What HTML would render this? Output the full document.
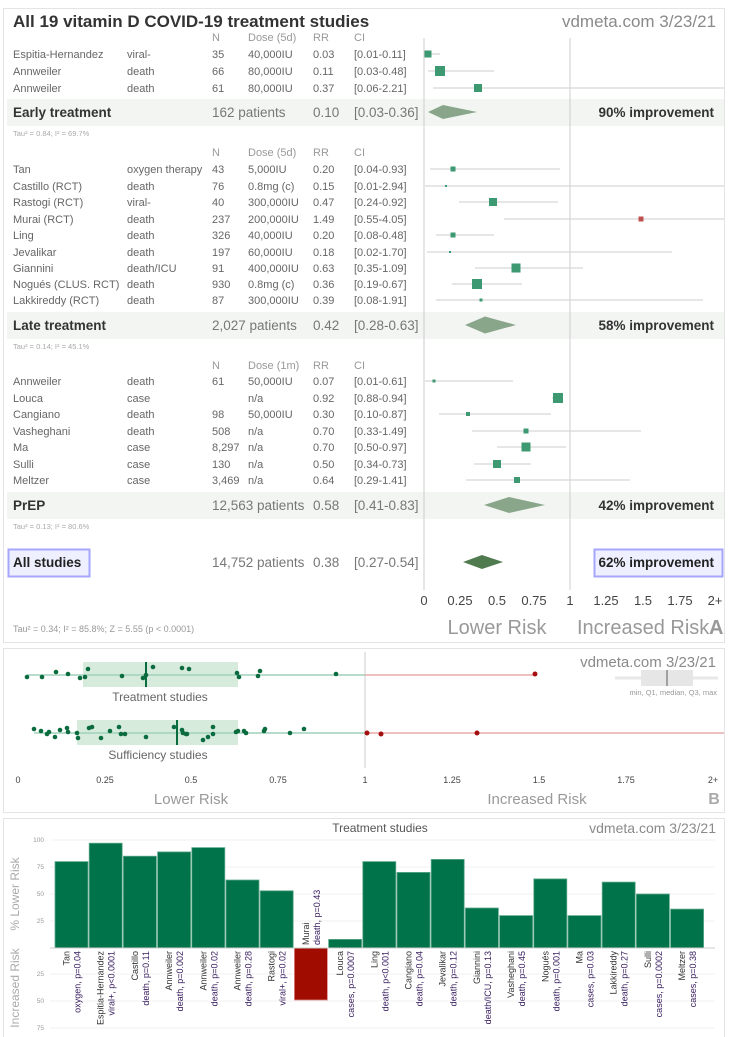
<!DOCTYPE html>
<html><head><meta charset="utf-8"><style>
body{margin:0;background:#fff}
svg{display:block;font-family:"Liberation Sans Narrow","Liberation Sans",sans-serif}
.t{font-size:11px;fill:#666}
.h{font-size:11px;fill:#999}
.b{font-size:13.5px;font-weight:bold;fill:#333}
.m{font-size:13.5px;fill:#777}
.tau{font-size:7.5px;fill:#aaa}
.ci{stroke:#d6d6d6;stroke-width:1.3}
.sq{fill:#3d9972}
.lb{font-size:9px;fill:#333}
.lp{font-size:9px;fill:#3a2060}
</style></head><body>
<svg width="729" height="1037" viewBox="0 0 729 1037" xmlns="http://www.w3.org/2000/svg">
<!-- Panel A -->
<rect x="3.5" y="8.5" width="721" height="634" fill="#fff" stroke="#e4e4e4"/>
<text x="13" y="27" style="font-size:17px;font-weight:bold;fill:#333">All 19 vitamin D COVID-19 treatment studies</text>
<text x="716" y="27" text-anchor="end" style="font-size:17px;fill:#8a8a8a">vdmeta.com 3/23/21</text>
<rect x="7" y="99" width="717" height="27" fill="#f3f5f3"/>
<rect x="7" y="312" width="717" height="27" fill="#f3f5f3"/>
<rect x="7" y="492" width="717" height="27" fill="#f3f5f3"/>
<line x1="424" y1="38" x2="424" y2="590" stroke="#ccc"/>
<line x1="570" y1="38" x2="570" y2="590" stroke="#ccc"/>
<g class="h"><text x="212" y="41">N</text><text x="248" y="41">Dose (5d)</text><text x="313" y="41">RR</text><text x="354" y="41">CI</text></g>
<g class="t">
<text x="13" y="58">Espitia-Hernandez</text><text x="127" y="58">viral-</text><text x="212" y="58">35</text><text x="248" y="58">40,000IU</text><text x="313" y="58">0.03</text><text x="354" y="58">[0.01-0.11]</text>
<text x="13" y="75">Annweiler</text><text x="127" y="75">death</text><text x="212" y="75">66</text><text x="248" y="75">80,000IU</text><text x="313" y="75">0.11</text><text x="354" y="75">[0.03-0.48]</text>
<text x="13" y="92">Annweiler</text><text x="127" y="92">death</text><text x="212" y="92">61</text><text x="248" y="92">80,000IU</text><text x="313" y="92">0.37</text><text x="354" y="92">[0.06-2.21]</text>
</g>
<text x="13" y="117" class="b">Early treatment</text><text x="212" y="117" class="m">162 patients</text><text x="313" y="117" class="m">0.10</text><text x="354" y="117" class="m">[0.03-0.36]</text>
<text x="714" y="117" class="b" text-anchor="end">90% improvement</text>
<text x="13" y="136" class="tau">Tau² = 0.84; I² = 69.7%</text>
<g class="h"><text x="212" y="156">N</text><text x="248" y="156">Dose (5d)</text><text x="313" y="156">RR</text><text x="354" y="156">CI</text></g>
<g class="t">
<text x="13" y="173">Tan</text><text x="127" y="173">oxygen therapy</text><text x="212" y="173">43</text><text x="248" y="173">5,000IU</text><text x="313" y="173">0.20</text><text x="354" y="173">[0.04-0.93]</text>
<text x="13" y="190">Castillo (RCT)</text><text x="127" y="190">death</text><text x="212" y="190">76</text><text x="248" y="190">0.8mg (c)</text><text x="313" y="190">0.15</text><text x="354" y="190">[0.01-2.94]</text>
<text x="13" y="206">Rastogi (RCT)</text><text x="127" y="206">viral-</text><text x="212" y="206">40</text><text x="248" y="206">300,000IU</text><text x="313" y="206">0.47</text><text x="354" y="206">[0.24-0.92]</text>
<text x="13" y="223">Murai (RCT)</text><text x="127" y="223">death</text><text x="212" y="223">237</text><text x="248" y="223">200,000IU</text><text x="313" y="223">1.49</text><text x="354" y="223">[0.55-4.05]</text>
<text x="13" y="239">Ling</text><text x="127" y="239">death</text><text x="212" y="239">326</text><text x="248" y="239">40,000IU</text><text x="313" y="239">0.20</text><text x="354" y="239">[0.08-0.48]</text>
<text x="13" y="256">Jevalikar</text><text x="127" y="256">death</text><text x="212" y="256">197</text><text x="248" y="256">60,000IU</text><text x="313" y="256">0.18</text><text x="354" y="256">[0.02-1.70]</text>
<text x="13" y="272">Giannini</text><text x="127" y="272">death/ICU</text><text x="212" y="272">91</text><text x="248" y="272">400,000IU</text><text x="313" y="272">0.63</text><text x="354" y="272">[0.35-1.09]</text>
<text x="13" y="288">Nogués (CLUS. RCT)</text><text x="127" y="288">death</text><text x="212" y="288">930</text><text x="248" y="288">0.8mg (c)</text><text x="313" y="288">0.36</text><text x="354" y="288">[0.19-0.67]</text>
<text x="13" y="304">Lakkireddy (RCT)</text><text x="127" y="304">death</text><text x="212" y="304">87</text><text x="248" y="304">300,000IU</text><text x="313" y="304">0.39</text><text x="354" y="304">[0.08-1.91]</text>
</g>
<text x="13" y="330" class="b">Late treatment</text><text x="212" y="330" class="m">2,027 patients</text><text x="313" y="330" class="m">0.42</text><text x="354" y="330" class="m">[0.28-0.63]</text>
<text x="714" y="330" class="b" text-anchor="end">58% improvement</text>
<text x="13" y="349" class="tau">Tau² = 0.14; I² = 45.1%</text>
<g class="h"><text x="212" y="369">N</text><text x="248" y="369">Dose (1m)</text><text x="313" y="369">RR</text><text x="354" y="369">CI</text></g>
<g class="t">
<text x="13" y="385">Annweiler</text><text x="127" y="385">death</text><text x="212" y="385">61</text><text x="248" y="385">50,000IU</text><text x="313" y="385">0.07</text><text x="354" y="385">[0.01-0.61]</text>
<text x="13" y="402">Louca</text><text x="127" y="402">case</text><text x="248" y="402">n/a</text><text x="313" y="402">0.92</text><text x="354" y="402">[0.88-0.94]</text>
<text x="13" y="418">Cangiano</text><text x="127" y="418">death</text><text x="212" y="418">98</text><text x="248" y="418">50,000IU</text><text x="313" y="418">0.30</text><text x="354" y="418">[0.10-0.87]</text>
<text x="13" y="435">Vasheghani</text><text x="127" y="435">death</text><text x="212" y="435">508</text><text x="248" y="435">n/a</text><text x="313" y="435">0.70</text><text x="354" y="435">[0.33-1.49]</text>
<text x="13" y="451">Ma</text><text x="127" y="451">case</text><text x="212" y="451">8,297</text><text x="248" y="451">n/a</text><text x="313" y="451">0.70</text><text x="354" y="451">[0.50-0.97]</text>
<text x="13" y="468">Sulli</text><text x="127" y="468">case</text><text x="212" y="468">130</text><text x="248" y="468">n/a</text><text x="313" y="468">0.50</text><text x="354" y="468">[0.34-0.73]</text>
<text x="13" y="484">Meltzer</text><text x="127" y="484">case</text><text x="212" y="484">3,469</text><text x="248" y="484">n/a</text><text x="313" y="484">0.64</text><text x="354" y="484">[0.29-1.41]</text>
</g>
<text x="13" y="510" class="b">PrEP</text><text x="212" y="510" class="m">12,563 patients</text><text x="313" y="510" class="m">0.58</text><text x="354" y="510" class="m">[0.41-0.83]</text>
<text x="714" y="510" class="b" text-anchor="end">42% improvement</text>
<text x="13" y="529" class="tau">Tau² = 0.13; I² = 80.6%</text>
<rect x="8.5" y="549.5" width="81" height="27" fill="#eef0ff" stroke="#a6a6ff" stroke-width="2"/>
<text x="13" y="567" class="b" style="fill:#222">All studies</text>
<text x="212" y="567" class="m">14,752 patients</text><text x="313" y="567" class="m">0.38</text><text x="354" y="567" class="m">[0.27-0.54]</text>
<rect x="594.5" y="549.5" width="128" height="27" fill="#eef0ff" stroke="#a6a6ff" stroke-width="2"/>
<text x="714" y="567" class="b" text-anchor="end" style="fill:#222">62% improvement</text>
<!-- forest marks -->
<g>
<line class="ci" x1="425" y1="54" x2="440" y2="54"/><rect class="sq" x="424.5" y="50.5" width="7" height="7"/>
<line class="ci" x1="428" y1="71" x2="494" y2="71"/><rect class="sq" x="435" y="66" width="10" height="10"/>
<line class="ci" x1="433" y1="88" x2="724" y2="88"/><rect class="sq" x="474" y="84" width="8" height="8"/>
<polygon points="428,112 443,105 477,112 443,119" fill="#8aa68a"/>
<line class="ci" x1="430" y1="169" x2="560" y2="169"/><rect class="sq" x="450.5" y="166.5" width="5" height="5"/>
<line class="ci" x1="425" y1="186" x2="724" y2="186"/><rect class="sq" x="445" y="185" width="2" height="2"/>
<line class="ci" x1="459" y1="202" x2="558" y2="202"/><rect class="sq" x="489" y="198" width="8" height="8"/>
<line class="ci" x1="504" y1="219" x2="724" y2="219"/><rect x="638.5" y="216.5" width="5" height="5" fill="#c0504d"/>
<line class="ci" x1="436" y1="235" x2="494" y2="235"/><rect class="sq" x="450.5" y="232.5" width="5" height="5"/>
<line class="ci" x1="427" y1="252" x2="672" y2="252"/><rect class="sq" x="449" y="251" width="2" height="2"/>
<line class="ci" x1="475" y1="268" x2="583" y2="268"/><rect class="sq" x="511.5" y="263.5" width="9" height="9"/>
<line class="ci" x1="452" y1="284" x2="522" y2="284"/><rect class="sq" x="472" y="279" width="10" height="10"/>
<line class="ci" x1="436" y1="300" x2="703" y2="300"/><rect class="sq" x="479.5" y="298.5" width="3" height="3"/>
<polygon points="465,325 485,316.5 516,325 485,333.5" fill="#8aa68a"/>
<line class="ci" x1="425" y1="381" x2="513" y2="381"/><rect class="sq" x="432.5" y="379.5" width="3" height="3"/>
<line class="ci" x1="552" y1="398" x2="561" y2="398"/><rect class="sq" x="553" y="393" width="10" height="10"/>
<line class="ci" x1="439" y1="414" x2="551" y2="414"/><rect class="sq" x="466" y="412" width="4" height="4"/>
<line class="ci" x1="472" y1="431" x2="641" y2="431"/><rect class="sq" x="523.5" y="428.5" width="5" height="5"/>
<line class="ci" x1="497" y1="447" x2="566" y2="447"/><rect class="sq" x="521.5" y="442.5" width="9" height="9"/>
<line class="ci" x1="474" y1="464" x2="531" y2="464"/><rect class="sq" x="493" y="460" width="8" height="8"/>
<line class="ci" x1="466" y1="480" x2="630" y2="480"/><rect class="sq" x="514" y="477" width="6" height="6"/>
<polygon points="484,505 509,497 545,505 509,513" fill="#8aa68a"/>
<polygon points="463,562 482,555 503,562 482,569" fill="#4f7b4f"/>
</g>
<g style="font-size:13px;fill:#444" text-anchor="middle">
<text x="424" y="605">0</text><text x="460" y="605">0.25</text><text x="497" y="605">0.5</text><text x="534" y="605">0.75</text><text x="570" y="605">1</text><text x="606" y="605">1.25</text><text x="643" y="605">1.5</text><text x="680" y="605">1.75</text><text x="715" y="605">2+</text>
</g>
<text x="497" y="634" text-anchor="middle" style="font-size:20px;fill:#999">Lower Risk</text>
<text x="577" y="634" style="font-size:20px;fill:#999">Increased Risk</text>
<text x="709" y="634" style="font-size:20px;fill:#999;font-weight:bold">A</text>
<text x="13" y="632" style="font-size:9px;fill:#999">Tau² = 0.34; I² = 85.8%; Z = 5.55 (p &lt; 0.0001)</text>

<!-- Panel B -->
<rect x="3.5" y="648.5" width="721" height="164" fill="#fff" stroke="#e4e4e4"/>
<text x="716" y="667" text-anchor="end" style="font-size:15px;fill:#8a8a8a">vdmeta.com 3/23/21</text>
<line x1="615" y1="678" x2="718" y2="678" stroke="#e8e8e8" stroke-width="3"/>
<rect x="641" y="670" width="52" height="16" fill="#e6e6e6"/>
<line x1="667" y1="670" x2="667" y2="686" stroke="#888" stroke-width="1.5"/>
<text x="717" y="695" text-anchor="end" style="font-size:7.5px;fill:#999">min, Q1, median, Q3, max</text>
<line x1="365" y1="652" x2="365" y2="768" stroke="#ddd" stroke-width="1.5"/>
<rect x="83" y="662" width="155" height="25" fill="#d6ebdc"/>
<line x1="27" y1="675" x2="365" y2="675" stroke="#9fd1bb" stroke-width="1.5"/>
<line x1="365" y1="675" x2="535" y2="675" stroke="#e7aaaa" stroke-width="1.5"/>
<line x1="146" y1="662" x2="146" y2="687" stroke="#0a6b3e" stroke-width="2"/>
<text x="160" y="701" text-anchor="middle" style="font-size:12px;fill:#666">Treatment studies</text>
<rect x="77" y="720" width="161" height="25" fill="#d6ebdc"/>
<line x1="34" y1="733" x2="365" y2="733" stroke="#9fd1bb" stroke-width="1.5"/>
<line x1="365" y1="733" x2="724" y2="733" stroke="#e7aaaa" stroke-width="1.5"/>
<line x1="177" y1="720" x2="177" y2="745" stroke="#0a6b3e" stroke-width="2"/>
<text x="158" y="759" text-anchor="middle" style="font-size:12px;fill:#666">Sufficiency studies</text>
<g fill="#0a6b3e">
<circle cx="27" cy="677" r="2.3"/><circle cx="42" cy="677" r="2.3"/><circle cx="56" cy="672" r="2.3"/><circle cx="68" cy="674" r="2.3"/><circle cx="80" cy="678" r="2.3"/><circle cx="85" cy="677" r="2.3"/><circle cx="88" cy="669" r="2.3"/><circle cx="122" cy="676" r="2.3"/><circle cx="143" cy="678" r="2.3"/><circle cx="146" cy="675" r="2.3"/><circle cx="153" cy="667" r="2.3"/><circle cx="182" cy="668" r="2.3"/><circle cx="189" cy="669" r="2.3"/><circle cx="237" cy="673" r="2.3"/><circle cx="239" cy="677" r="2.3"/><circle cx="258" cy="676" r="2.3"/><circle cx="260" cy="671" r="2.3"/><circle cx="336" cy="674" r="2.3"/>
<circle cx="34" cy="729" r="2.3"/><circle cx="41" cy="731" r="2.3"/><circle cx="47" cy="734" r="2.3"/><circle cx="49" cy="732" r="2.3"/><circle cx="55" cy="737" r="2.3"/><circle cx="60" cy="730" r="2.3"/><circle cx="67" cy="728" r="2.3"/><circle cx="68" cy="732" r="2.3"/><circle cx="77" cy="733" r="2.3"/><circle cx="78" cy="738" r="2.3"/><circle cx="89" cy="728" r="2.3"/><circle cx="92" cy="727" r="2.3"/><circle cx="101" cy="738" r="2.3"/><circle cx="110" cy="731" r="2.3"/><circle cx="119" cy="727" r="2.3"/><circle cx="121" cy="734" r="2.3"/><circle cx="125" cy="734" r="2.3"/><circle cx="146" cy="737" r="2.3"/><circle cx="174" cy="727" r="2.3"/><circle cx="182" cy="730" r="2.3"/><circle cx="183" cy="733" r="2.3"/><circle cx="186" cy="734" r="2.3"/><circle cx="187" cy="734" r="2.3"/><circle cx="203" cy="740" r="2.3"/><circle cx="208" cy="737" r="2.3"/><circle cx="213" cy="727" r="2.3"/><circle cx="213" cy="734" r="2.3"/><circle cx="236" cy="732" r="2.3"/><circle cx="238" cy="731" r="2.3"/><circle cx="244" cy="731" r="2.3"/><circle cx="246" cy="733" r="2.3"/><circle cx="264" cy="731" r="2.3"/><circle cx="265" cy="729" r="2.3"/><circle cx="290" cy="733" r="2.3"/><circle cx="304" cy="729" r="2.3"/>
</g>
<g fill="#a50f0f"><circle cx="535" cy="674" r="2.5"/><circle cx="367" cy="733" r="2.5"/><circle cx="381" cy="734" r="2.5"/><circle cx="477" cy="733" r="2.5"/></g>
<g style="font-size:9px;fill:#444" text-anchor="middle">
<text x="18" y="783">0</text><text x="105" y="783">0.25</text><text x="191" y="783">0.5</text><text x="278" y="783">0.75</text><text x="365" y="783">1</text><text x="452" y="783">1.25</text><text x="539" y="783">1.5</text><text x="626" y="783">1.75</text><text x="713" y="783">2+</text>
</g>
<text x="191" y="804" text-anchor="middle" style="font-size:15px;fill:#999">Lower Risk</text>
<text x="537" y="804" text-anchor="middle" style="font-size:15px;fill:#999">Increased Risk</text>
<text x="714" y="804" text-anchor="middle" style="font-size:16px;fill:#aaa;font-weight:bold">B</text>

<!-- Panel C -->
<rect x="3.5" y="818.5" width="721" height="222" fill="#fff" stroke="#e4e4e4"/>
<text x="380" y="832" text-anchor="middle" style="font-size:12px;fill:#555">Treatment studies</text>
<text x="716" y="833" text-anchor="end" style="font-size:14px;fill:#8a8a8a">vdmeta.com 3/23/21</text>
<g stroke="#f0f0f0"><line x1="50" y1="840" x2="715" y2="840"/><line x1="50" y1="867" x2="715" y2="867"/><line x1="50" y1="894" x2="715" y2="894"/><line x1="50" y1="921" x2="715" y2="921"/><line x1="50" y1="974" x2="715" y2="974"/><line x1="50" y1="1001" x2="715" y2="1001"/><line x1="50" y1="1028" x2="715" y2="1028"/></g>
<g style="font-size:6.5px;fill:#999" text-anchor="end">
<text x="44" y="842">100</text><text x="44" y="869">75</text><text x="44" y="896">50</text><text x="44" y="923">25</text><text x="44" y="976">25</text><text x="44" y="1003">50</text><text x="44" y="1030">75</text>
</g>
<text transform="translate(19,894) rotate(-90)" text-anchor="middle" style="font-size:12px;fill:#aaa">% Lower Risk</text>
<text transform="translate(19,988) rotate(-90)" text-anchor="middle" style="font-size:12px;fill:#aaa">Increased Risk</text>
<g fill="#00734a" stroke="#5fa88a" stroke-width="0.8">
<rect x="55" y="861.6" width="33" height="86.4"/>
<rect x="89.2" y="843.2" width="33" height="104.8"/>
<rect x="123.4" y="856.2" width="33" height="91.8"/>
<rect x="157.6" y="851.9" width="33" height="96.1"/>
<rect x="191.8" y="847.6" width="33" height="100.4"/>
<rect x="226" y="880" width="33" height="68"/>
<rect x="260.2" y="890.8" width="33" height="57.2"/>
<rect x="328.6" y="939.4" width="33" height="8.6"/>
<rect x="362.8" y="861.6" width="33" height="86.4"/>
<rect x="397" y="872.4" width="33" height="75.6"/>
<rect x="431.2" y="859.4" width="33" height="88.6"/>
<rect x="465.4" y="908" width="33" height="40"/>
<rect x="499.6" y="915.6" width="33" height="32.4"/>
<rect x="533.8" y="878.9" width="33" height="69.1"/>
<rect x="568" y="915.6" width="33" height="32.4"/>
<rect x="602.2" y="882.1" width="33" height="65.9"/>
<rect x="636.4" y="894" width="33" height="54"/>
<rect x="670.6" y="909.1" width="33" height="38.9"/>
</g>
<rect x="294.4" y="948" width="33" height="52" fill="#a00d00" stroke="#d88" stroke-width="0.8"/>
<line x1="50" y1="948" x2="715" y2="948" stroke="#ccc"/>
<g>
<g transform="translate(71.5,951) rotate(-90)" text-anchor="end"><text class="lb" y="-2">Tan</text><text class="lp" y="9">oxygen, p=0.04</text></g>
<g transform="translate(105.7,951) rotate(-90)" text-anchor="end"><text class="lb" y="-2">Espitia-Hernandez</text><text class="lp" y="9">viral+, p&lt;0.0001</text></g>
<g transform="translate(139.9,951) rotate(-90)" text-anchor="end"><text class="lb" y="-2">Castillo</text><text class="lp" y="9">death, p=0.11</text></g>
<g transform="translate(174.1,951) rotate(-90)" text-anchor="end"><text class="lb" y="-2">Annweiler</text><text class="lp" y="9">death, p=0.002</text></g>
<g transform="translate(208.3,951) rotate(-90)" text-anchor="end"><text class="lb" y="-2">Annweiler</text><text class="lp" y="9">death, p=0.02</text></g>
<g transform="translate(242.5,951) rotate(-90)" text-anchor="end"><text class="lb" y="-2">Annweiler</text><text class="lp" y="9">death, p=0.28</text></g>
<g transform="translate(276.7,951) rotate(-90)" text-anchor="end"><text class="lb" y="-2">Rastogi</text><text class="lp" y="9">viral+, p=0.02</text></g>
<g transform="translate(310.9,945) rotate(-90)" text-anchor="start"><text class="lb" y="-2">Murai</text><text class="lp" y="9">death, p=0.43</text></g>
<g transform="translate(345.1,951) rotate(-90)" text-anchor="end"><text class="lb" y="-2">Louca</text><text class="lp" y="9">cases, p=0.0007</text></g>
<g transform="translate(379.3,951) rotate(-90)" text-anchor="end"><text class="lb" y="-2">Ling</text><text class="lp" y="9">death, p&lt;0.001</text></g>
<g transform="translate(413.5,951) rotate(-90)" text-anchor="end"><text class="lb" y="-2">Cangiano</text><text class="lp" y="9">death, p=0.04</text></g>
<g transform="translate(447.7,951) rotate(-90)" text-anchor="end"><text class="lb" y="-2">Jevalikar</text><text class="lp" y="9">death, p=0.12</text></g>
<g transform="translate(481.9,951) rotate(-90)" text-anchor="end"><text class="lb" y="-2">Giannini</text><text class="lp" y="9">death/ICU, p=0.13</text></g>
<g transform="translate(516.1,951) rotate(-90)" text-anchor="end"><text class="lb" y="-2">Vasheghani</text><text class="lp" y="9">death, p=0.45</text></g>
<g transform="translate(550.3,951) rotate(-90)" text-anchor="end"><text class="lb" y="-2">Nogués</text><text class="lp" y="9">death, p=0.001</text></g>
<g transform="translate(584.5,951) rotate(-90)" text-anchor="end"><text class="lb" y="-2">Ma</text><text class="lp" y="9">cases, p=0.03</text></g>
<g transform="translate(618.7,951) rotate(-90)" text-anchor="end"><text class="lb" y="-2">Lakkireddy</text><text class="lp" y="9">death, p=0.27</text></g>
<g transform="translate(652.9,951) rotate(-90)" text-anchor="end"><text class="lb" y="-2">Sulli</text><text class="lp" y="9">cases, p=0.0002</text></g>
<g transform="translate(687.1,951) rotate(-90)" text-anchor="end"><text class="lb" y="-2">Meltzer</text><text class="lp" y="9">cases, p=0.38</text></g>
</g>
</svg>
</body></html>
